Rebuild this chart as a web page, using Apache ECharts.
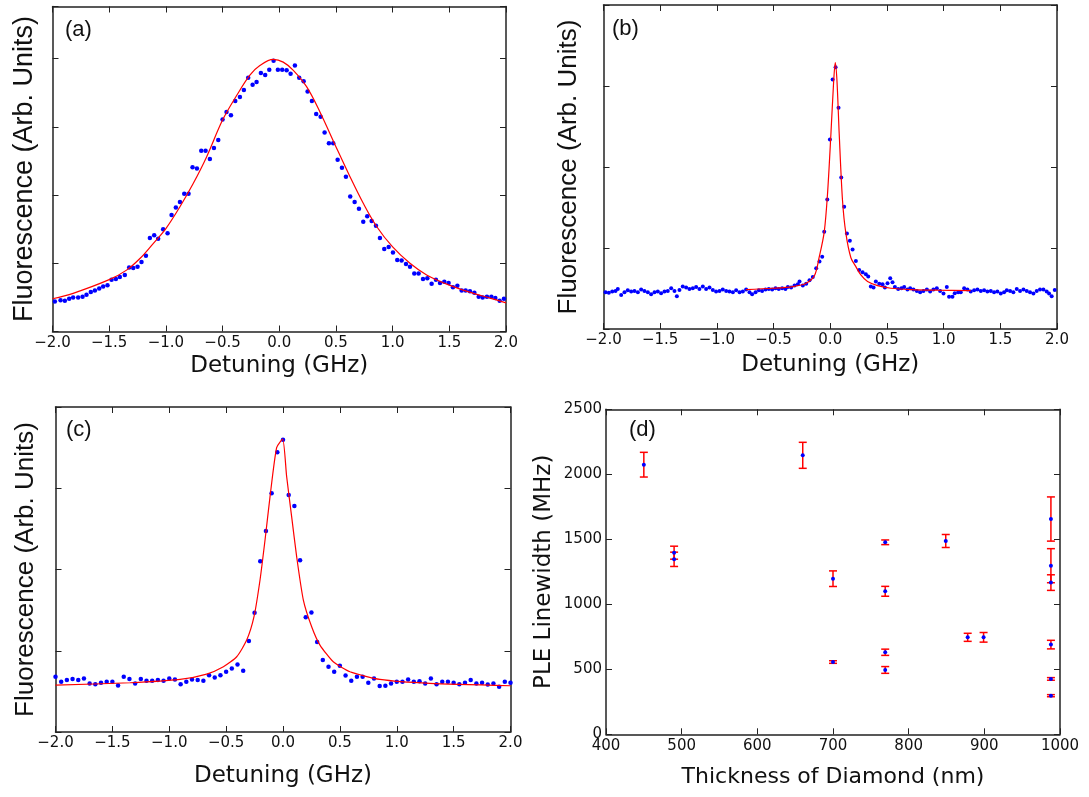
<!DOCTYPE html>
<html><head><meta charset="utf-8">
<script src="https://cdn.jsdelivr.net/npm/echarts@6/dist/echarts.min.js"></script>
<style>html,body{margin:0;padding:0;background:#fff}#c{width:1089px;height:797px}</style>
</head><body><div id="c"></div>
<script>
// ---- Panel (a) ----
const aX = [-1.979,-1.929,-1.891,-1.853,-1.818,-1.774,-1.735,-1.700,-1.662,-1.626,-1.588,-1.553,-1.515,-1.479,-1.441,-1.406,-1.362,-1.324,-1.288,-1.250,-1.215,-1.176,-1.141,-1.103,-1.068,-1.024,-0.985,-0.950,-0.912,-0.876,-0.838,-0.800,-0.765,-0.726,-0.688,-0.650,-0.612,-0.576,-0.538,-0.500,-0.465,-0.426,-0.388,-0.347,-0.312,-0.274,-0.235,-0.200,-0.162,-0.124,-0.088,-0.050,-0.012,0.026,0.065,0.100,0.138,0.176,0.215,0.250,0.288,0.326,0.365,0.400,0.438,0.476,0.515,0.553,0.588,0.626,0.665,0.703,0.741,0.776,0.815,0.853,0.888,0.926,0.965,1.003,1.041,1.079,1.118,1.153,1.191,1.229,1.268,1.306,1.344,1.382,1.418,1.456,1.494,1.532,1.571,1.609,1.644,1.682,1.721,1.759,1.794,1.832,1.871,1.906,1.944,1.982];
const aY = [0.44,0.46,0.45,0.48,0.50,0.50,0.51,0.54,0.58,0.60,0.63,0.66,0.68,0.76,0.77,0.80,0.83,0.94,0.93,0.95,1.02,1.11,1.37,1.41,1.36,1.50,1.44,1.71,1.82,1.90,2.02,2.02,2.41,2.39,2.65,2.65,2.53,2.69,2.81,3.11,3.22,3.17,3.38,3.44,3.54,3.72,3.62,3.66,3.79,3.76,3.84,3.97,3.84,3.84,3.83,3.78,3.90,3.72,3.67,3.52,3.38,3.19,3.15,2.92,2.76,2.76,2.52,2.40,2.27,1.98,1.90,1.80,1.61,1.69,1.62,1.55,1.37,1.21,1.24,1.16,1.05,1.04,0.99,0.95,0.85,0.85,0.77,0.78,0.70,0.76,0.71,0.73,0.71,0.65,0.67,0.60,0.60,0.59,0.57,0.51,0.50,0.51,0.51,0.49,0.45,0.48];
const aFitX = [-2.0,-1.818,-1.5,-1.347,-1.229,-1.112,-1.0,-0.876,-0.759,-0.641,-0.5,-0.376,-0.259,-0.171,-0.053,0.035,0.124,0.241,0.359,0.5,0.624,0.741,0.859,1.0,1.153,1.3,1.5,1.712,1.859,2.0];
const aFitY = [0.48,0.56,0.76,0.90,1.07,1.29,1.51,1.83,2.17,2.56,3.10,3.46,3.76,3.90,3.99,3.95,3.83,3.59,3.22,2.71,2.27,1.88,1.54,1.24,1.00,0.83,0.68,0.56,0.49,0.42];

// ---- Panel (b) ----
const bX = [-1.982,-1.953,-1.923,-1.894,-1.874,-1.844,-1.815,-1.786,-1.756,-1.727,-1.697,-1.668,-1.639,-1.609,-1.580,-1.550,-1.521,-1.492,-1.462,-1.433,-1.403,-1.374,-1.353,-1.330,-1.301,-1.271,-1.242,-1.212,-1.183,-1.154,-1.124,-1.095,-1.065,-1.036,-1.007,-0.977,-0.948,-0.918,-0.889,-0.859,-0.830,-0.800,-0.771,-0.742,-0.712,-0.689,-0.659,-0.630,-0.601,-0.571,-0.542,-0.512,-0.483,-0.454,-0.424,-0.395,-0.374,-0.345,-0.315,-0.286,-0.271,-0.242,-0.212,-0.183,-0.154,-0.124,-0.095,-0.071,
  -0.053,-0.026,-0.003,0.021,0.047,0.073,0.097,0.123,0.147,0.173,0.197,
  0.226,0.255,0.285,0.314,0.335,0.358,0.382,0.402,0.432,0.461,0.482,0.505,0.529,0.549,0.570,0.599,0.628,0.652,0.681,0.705,0.734,0.764,0.793,0.822,0.852,0.881,0.910,0.940,0.969,0.999,1.028,1.048,1.078,1.098,1.128,1.151,1.181,1.210,1.239,1.269,1.298,1.328,1.357,1.386,1.416,1.445,1.474,1.504,1.533,1.557,1.586,1.615,1.645,1.674,1.704,1.733,1.762,1.792,1.821,1.850,1.880,1.909,1.930,1.953,1.980];
const bY = [0.454,0.446,0.462,0.470,0.495,0.421,0.454,0.479,0.462,0.470,0.454,0.487,0.470,0.454,0.429,0.454,0.462,0.442,0.462,0.470,0.503,0.470,0.405,0.483,0.524,0.511,0.495,0.503,0.520,0.495,0.524,0.495,0.511,0.483,0.462,0.470,0.487,0.470,0.462,0.454,0.479,0.454,0.462,0.487,0.454,0.429,0.454,0.479,0.470,0.487,0.495,0.487,0.503,0.495,0.503,0.495,0.520,0.511,0.536,0.552,0.585,0.536,0.560,0.602,0.643,0.750,0.832,0.893,
  1.20,1.60,2.34,3.08,3.23,2.73,1.87,1.51,1.18,1.09,0.98,
  0.84,0.729,0.700,0.676,0.647,0.524,0.511,0.585,0.560,0.552,0.511,0.565,0.627,0.577,0.520,0.495,0.503,0.520,0.487,0.503,0.487,0.470,0.454,0.470,0.487,0.462,0.487,0.503,0.470,0.438,0.520,0.397,0.397,0.442,0.454,0.454,0.503,0.487,0.462,0.479,0.487,0.470,0.479,0.462,0.470,0.454,0.462,0.438,0.454,0.479,0.470,0.454,0.495,0.470,0.487,0.470,0.454,0.438,0.470,0.487,0.487,0.462,0.438,0.405,0.483];
const bFitX = [-0.743,-0.506,-0.330,-0.212,-0.139,-0.097,-0.053,-0.024,0.006,0.029,0.044,0.059,0.079,0.108,0.138,0.182,0.226,0.270,0.329,0.417,0.535,0.711,0.946,1.239];
const bFitY = [0.487,0.503,0.524,0.565,0.66,0.89,1.20,1.67,2.41,3.03,3.29,3.07,2.41,1.59,1.18,0.88,0.77,0.667,0.585,0.536,0.503,0.487,0.479,0.474];

// ---- Panel (c) ----
const cX = [-2.00,-1.95,-1.90,-1.85,-1.80,-1.75,-1.70,-1.65,-1.60,-1.55,-1.50,-1.45,-1.40,-1.35,-1.30,-1.25,-1.20,-1.15,-1.10,-1.05,-1.00,-0.95,-0.90,-0.85,-0.80,-0.75,-0.70,-0.65,-0.60,-0.55,-0.50,-0.45,-0.40,-0.35,-0.30,-0.25,-0.20,-0.15,-0.10,-0.05,0.00,0.05,0.10,0.15,0.20,0.25,0.30,0.35,0.40,0.45,0.50,0.55,0.60,0.65,0.70,0.75,0.80,0.85,0.90,0.95,1.00,1.05,1.10,1.15,1.20,1.25,1.30,1.35,1.40,1.45,1.50,1.55,1.60,1.65,1.70,1.75,1.80,1.85,1.90,1.95,2.00];
const cY = [0.680,0.618,0.639,0.651,0.639,0.659,0.598,0.589,0.606,0.618,0.618,0.573,0.680,0.651,0.598,0.651,0.630,0.630,0.639,0.630,0.659,0.647,0.589,0.618,0.647,0.639,0.630,0.700,0.671,0.700,0.741,0.782,0.832,0.754,1.119,1.468,2.101,2.474,2.938,3.444,3.596,2.918,2.782,2.113,1.411,1.472,1.107,0.885,0.803,0.741,0.815,0.696,0.630,0.680,0.680,0.606,0.659,0.565,0.569,0.598,0.618,0.618,0.647,0.618,0.626,0.598,0.659,0.589,0.618,0.618,0.606,0.589,0.606,0.639,0.598,0.606,0.585,0.598,0.556,0.618,0.606];
const cFitX = [-2.0,-1.344,-0.905,-0.671,-0.524,-0.407,-0.319,-0.255,-0.202,-0.158,-0.114,-0.056,-0.003,0.032,0.076,0.12,0.179,0.252,0.325,0.442,0.589,0.852,1.291,2.0];
const cFitY = [0.577,0.606,0.647,0.713,0.803,0.926,1.131,1.419,1.871,2.363,2.897,3.501,3.604,3.144,2.651,2.158,1.624,1.296,1.07,0.864,0.741,0.647,0.598,0.569];

// ---- Panel (d) ----
const dThick = [450,490,490,660,700,700,769,769,769,769,849,878,899,988,988,988,988,988,988];
const dWidth = [2074,1397,1346,2146,1197,556,1477,1100,631,495,1487,746,746,1656,1297,1167,690,426,297];
const dErr   = [95,50,55,100,60,10,18,38,24,26,50,31,37,170,131,60,33,10,8];

// ---- Axes / labels ----
const detTicks = {min:-2, max:2, interval:0.5};
const thickTicks = {min:400, max:1000, interval:100};
const lwTicks = {min:0, max:2500, interval:500};
const xTitle = 'Detuning (GHz)';
const yTitle = 'Fluorescence (Arb. Units)';
const dXTitle = 'Thickness of Diamond (nm)';
const dYTitle = 'PLE Linewidth (MHz)';
const panelLabels = ['(a)','(b)','(c)','(d)'];

const tickFont = 'DejaVu Sans';
const axisCol = '#222';
const zip = (xs, ys) => xs.map((x, i) => [x, ys[i]]);
const fmtDet = v => (v < 0 ? '\u2212' : '') + Math.abs(v).toFixed(1);
const fmtInt = v => String(Math.round(v));

const grids = [
  {left:52.5, top:6.5, width:453.5, height:325},
  {left:603.5, top:5, width:453.5, height:324},
  {left:55.5, top:407, width:455, height:325},
  {left:606, top:409.3, width:454, height:325}
];

const lineStyle = {color:axisCol, width:1.5};
const tickStyle = {show:true, inside:true, length:6, lineStyle:{color:axisCol, width:1}};

function xPair(gi, sc, fmt, name, gap, nameSize) {
  return [{
    type:'value', gridIndex:gi, min:sc.min, max:sc.max, interval:sc.interval, position:'bottom',
    axisLine:{show:true, onZero:false, lineStyle},
    axisTick:tickStyle,
    axisLabel:{show:true, formatter:fmt, color:'#111', fontFamily:tickFont, fontSize:15, margin:4, showMinLabel:true, showMaxLabel:true},
    splitLine:{show:false},
    name, nameLocation:'middle', nameGap:gap,
    nameTextStyle:{fontFamily:tickFont, fontSize:nameSize, color:'#111'}
  }, {
    type:'value', gridIndex:gi, min:sc.min, max:sc.max, interval:sc.interval, position:'top',
    axisLine:{show:true, onZero:false, lineStyle}, axisTick:tickStyle,
    axisLabel:{show:false}, splitLine:{show:false}
  }];
}
function yPair(gi, sc, labels, name, gap, nameFont, nameSize) {
  return [{
    type:'value', gridIndex:gi, min:sc.min, max:sc.max, interval:sc.interval, position:'left',
    axisLine:{show:true, onZero:false, lineStyle}, axisTick:tickStyle,
    axisLabel:{show:labels, formatter:fmtInt, color:'#111', fontFamily:tickFont, fontSize:15, margin:4, showMinLabel:true, showMaxLabel:true},
    splitLine:{show:false},
    name, nameLocation:'middle', nameGap:gap, nameRotate:90,
    nameTextStyle:{fontFamily:nameFont, fontSize:nameSize, color:'#111'}
  }, {
    type:'value', gridIndex:gi, min:sc.min, max:sc.max, interval:sc.interval, position:'right',
    axisLine:{show:true, onZero:false, lineStyle}, axisTick:tickStyle,
    axisLabel:{show:false}, splitLine:{show:false}
  }];
}

const xAxis = [
  ...xPair(0, detTicks, fmtDet, xTitle, 23, 23),
  ...xPair(1, detTicks, fmtDet, xTitle, 25, 23),
  ...xPair(2, detTicks, fmtDet, xTitle, 33, 23),
  ...xPair(3, thickTicks, fmtInt, dXTitle, 32, 22)
];
const yAxis = [
  ...yPair(0, {min:0, max:4.766, interval:1}, false, yTitle, 14, 'Liberation Sans', 27),
  ...yPair(1, {min:0, max:4, interval:1}, false, yTitle, 22, 'Liberation Sans', 26),
  ...yPair(2, {min:0, max:4, interval:1}, false, yTitle, 17, 'Liberation Sans', 26),
  ...yPair(3, lwTicks, true, dYTitle, 50, tickFont, 23)
];

const blue = '#0000ff', red = '#ff0000';
function dots(gi, xs, ys, size) {
  return {type:'scatter', xAxisIndex:2*gi, yAxisIndex:2*gi, data:zip(xs, ys), symbol:'circle', symbolSize:size,
    itemStyle:{color:blue, opacity:1}, z:3, silent:true};
}
function fit(gi, xs, ys, smooth) {
  return {type:'line', xAxisIndex:2*gi, yAxisIndex:2*gi, data:zip(xs, ys), showSymbol:false, smooth,
    lineStyle:{color:red, width:1.2}, z:4, silent:true};
}

const series = [
  dots(0, aX, aY, 4.5), fit(0, aFitX, aFitY, 0.35),
  dots(1, bX, bY, 4), fit(1, bFitX, bFitY, 0.3),
  dots(2, cX, cY, 4.5), fit(2, cFitX, cFitY, 0.2),
  {
    type:'custom', xAxisIndex:6, yAxisIndex:6, z:2, silent:true,
    data: dThick.map((t, i) => [t, dWidth[i] - dErr[i], dWidth[i] + dErr[i]]),
    encode:{x:0, y:[1, 2]},
    renderItem(params, api) {
      const x = api.value(0);
      const lo = api.coord([x, api.value(1)]);
      const hi = api.coord([x, api.value(2)]);
      const hw = 4, st = {stroke:red, lineWidth:1.5};
      return {type:'group', children:[
        {type:'line', shape:{x1:lo[0], y1:lo[1], x2:hi[0], y2:hi[1]}, style:st},
        {type:'line', shape:{x1:lo[0]-hw, y1:lo[1], x2:lo[0]+hw, y2:lo[1]}, style:st},
        {type:'line', shape:{x1:hi[0]-hw, y1:hi[1], x2:hi[0]+hw, y2:hi[1]}, style:st}
      ]};
    }
  },
  dots(3, dThick, dWidth, 4)
];

const labelPos = [[65, 19], [612, 18], [66, 419], [629, 419]];
const title = panelLabels.map((t, i) => ({
  text:t, left:labelPos[i][0], top:labelPos[i][1], padding:0,
  textStyle:{fontFamily:'Liberation Sans', fontSize:22, fontWeight:'normal', color:'#111'}
}));

const chart = echarts.init(document.getElementById('c'), null, {renderer:'canvas'});
chart.setOption({
  animation:false,
  backgroundColor:'#fff',
  title,
  grid: grids.map(g => Object.assign({containLabel:false, outerBoundsMode:'none'}, g)),
  xAxis, yAxis, series
});
</script></body></html>
